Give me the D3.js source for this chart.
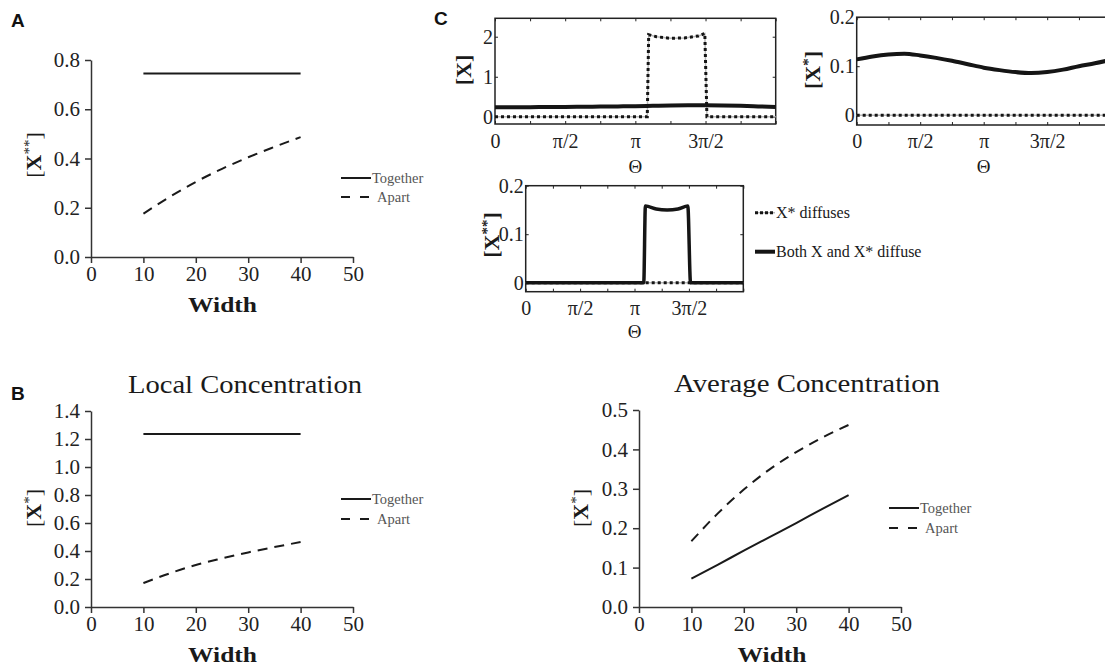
<!DOCTYPE html>
<html>
<head>
<meta charset="utf-8">
<script src="https://cdn.jsdelivr.net/npm/d3@7"></script>
<style>
  body { margin: 0; background: #fff; }
  svg { display: block; }
</style>
</head>
<body>
<svg id="fig" width="1105" height="667"></svg>
<script>
// --- data: panels A / B (x = channel width) ---
const widths = [10, 15, 20, 25, 30, 35, 40];
const widthTicks = [0, 10, 20, 30, 40, 50];

const aTogether = [0.745, 0.745, 0.745, 0.745, 0.745, 0.745, 0.745];
const aApart    = [0.176, 0.244, 0.305, 0.358, 0.405, 0.447, 0.487];
const aTicks    = [0, 0.2, 0.4, 0.6, 0.8];

const localTogether = [1.235, 1.235, 1.235, 1.235, 1.235, 1.235, 1.235];
const localApart    = [0.171, 0.240, 0.300, 0.347, 0.390, 0.428, 0.464];
const localTicks    = [0, 0.2, 0.4, 0.6, 0.8, 1.0, 1.2, 1.4];

const avgTogether = [0.072, 0.107, 0.143, 0.178, 0.213, 0.249, 0.284];
const avgApart    = [0.167, 0.237, 0.298, 0.350, 0.393, 0.430, 0.462];
const avgTicks    = [0, 0.1, 0.2, 0.3, 0.4, 0.5];

// --- data: panel C (theta in units of pi) ---
const thetaTicks  = [0, 0.25, 0.5, 0.75, 1, 1.25, 1.5, 1.75, 2];
const thetaLabels = ['0', '', 'π/2', '', 'π', '', '3π/2', '', ''];
const thetaGrid   = [0, 0.125, 0.25, 0.375, 0.5, 0.625, 0.75, 0.875, 1,
                     1.125, 1.25, 1.375, 1.5, 1.625, 1.75, 1.875, 2];
const zeroLine    = [0, 0, 0, 0, 0, 0, 0, 0, 0, 0, 0, 0, 0, 0, 0, 0, 0];

// [X]
const xBothDiffuse = [0.24, 0.24, 0.24, 0.245, 0.245, 0.25, 0.255, 0.26, 0.265,
                      0.275, 0.285, 0.29, 0.29, 0.285, 0.275, 0.26, 0.245];
const xStarTheta   = [0, 1.085, 1.095, 1.15, 1.25, 1.35, 1.45, 1.495, 1.51, 2];
const xStarDiffuse = [0, 0, 2.05, 2.0, 1.96, 1.97, 2.02, 2.08, 0, 0];
const xTicks = [0, 1, 2];

// [X*]
const xsBothDiffuse = [0.114, 0.120, 0.124, 0.1255, 0.122, 0.117, 0.111, 0.104, 0.097,
                       0.092, 0.088, 0.086, 0.088, 0.093, 0.100, 0.106, 0.113];
const smallTicks = [0, 0.1, 0.2];
const smallTickLabels = ['0', '0.1', '0.2'];

// [X**]
const xssTheta       = [0, 1.085, 1.10, 1.2, 1.3, 1.4, 1.49, 1.515, 2];
const xssBothDiffuse = [0, 0, 0.158, 0.152, 0.150, 0.152, 0.158, 0, 0];

const svg = d3.select('#fig');
svg.append('rect').attr('width', 1105).attr('height', 667).attr('fill', '#fff');

const SERIF = '"Liberation Serif", "Times New Roman", serif';
const INK = '#1a1a1a';

function panelLetter(t, x, y) {
  svg.append('text').attr('x', x).attr('y', y)
    .attr('font-family', '"Liberation Sans", Arial, sans-serif')
    .attr('font-weight', 700).attr('font-size', 19).attr('fill', '#111')
    .text(t);
}

// rotated y label like "[X**]"
function yLabel(cx, cy, stars, bold) {
  const t = svg.append('text')
    .attr('transform', `translate(${cx},${cy}) rotate(-90)`)
    .attr('text-anchor', 'middle').attr('dy', '0.35em')
    .attr('font-family', SERIF).attr('font-size', 22).attr('fill', INK)
    .attr('font-weight', bold ? 700 : 400);
  t.append('tspan').text('[');
  t.append('tspan').attr('font-weight', 700).text('X');
  if (stars) {
    t.append('tspan').attr('dy', -7).attr('font-size', 15).text(stars);
    t.append('tspan').attr('dy', 7).text(']');
  } else {
    t.append('tspan').text(']');
  }
}

function styleTickText(a, size) {
  a.attr('font-family', SERIF);
  a.selectAll('.tick text').attr('font-family', SERIF).attr('font-size', size).attr('fill', '#222');
}

function widthPanel(o) {
  const x = d3.scaleLinear().domain([0, 50]).range(o.xr);
  const y = d3.scaleLinear().domain(o.yd).range(o.yr);
  const g = svg.append('g');

  const ax = g.append('g').attr('transform', `translate(0,${o.yr[0]})`)
    .call(d3.axisBottom(x).tickValues(widthTicks).tickSize(6).tickSizeOuter(0).tickPadding(3));
  const ay = g.append('g').attr('transform', `translate(${o.xr[0]},0)`)
    .call(d3.axisLeft(y).tickValues(o.ticks).tickFormat(d3.format('.1f'))
      .tickSize(6).tickSizeOuter(0).tickPadding(5));
  [ax, ay].forEach(a => {
    a.select('.domain').attr('stroke', '#333').attr('stroke-width', 1.5);
    a.selectAll('.tick line').attr('stroke', '#333').attr('stroke-width', 1.5);
    styleTickText(a, 21);
  });

  const line = d3.line().x((d, i) => x(widths[i])).y(d => y(d)).curve(d3.curveMonotoneX);
  g.append('path').datum(o.together).attr('d', line)
    .attr('fill', 'none').attr('stroke', INK).attr('stroke-width', 2);
  g.append('path').datum(o.apart).attr('d', line)
    .attr('fill', 'none').attr('stroke', INK).attr('stroke-width', 2)
    .attr('stroke-dasharray', '10,7');

  // legend
  const lx = o.legend[0], ly = o.legend[1];
  g.append('line').attr('x1', lx).attr('x2', lx + 30).attr('y1', ly).attr('y2', ly)
    .attr('stroke', INK).attr('stroke-width', 2);
  g.append('line').attr('x1', lx).attr('x2', lx + 30).attr('y1', ly + o.gap).attr('y2', ly + o.gap)
    .attr('stroke', INK).attr('stroke-width', 2).attr('stroke-dasharray', '9,10');
  g.append('text').attr('x', lx + 31).attr('y', ly + 5)
    .attr('font-family', SERIF).attr('font-size', 14.5).attr('fill', '#555').text('Together');
  g.append('text').attr('x', lx + 36).attr('y', ly + o.gap + 5)
    .attr('font-family', SERIF).attr('font-size', 14.5).attr('fill', '#555').text('Apart');

  // x title
  g.append('text').attr('x', o.wx).attr('y', o.yr[0] + 55)
    .attr('text-anchor', 'middle').attr('font-family', SERIF).attr('font-weight', 700)
    .attr('font-size', 22).attr('fill', INK)
    .attr('textLength', 69).attr('lengthAdjust', 'spacingAndGlyphs').text('Width');

  if (o.title) {
    g.append('text').attr('x', o.title.x).attr('y', o.title.y)
      .attr('text-anchor', 'middle').attr('font-family', SERIF).attr('font-size', 25)
      .attr('fill', INK).attr('textLength', o.title.w).attr('lengthAdjust', 'spacingAndGlyphs')
      .text(o.title.t);
  }
  yLabel(o.ylab[0], o.ylab[1], o.stars, false);
}

function drawDotted(g, xs, ys, x, y) {
  const line = d3.line().x((d, i) => x(xs[i])).y(d => y(d));
  g.append('path').datum(ys).attr('d', line)
    .attr('fill', 'none').attr('stroke', '#b8b8b8').attr('stroke-width', 1.5);
  g.append('path').datum(ys).attr('d', line)
    .attr('fill', 'none').attr('stroke', '#151515').attr('stroke-width', 3)
    .attr('stroke-dasharray', '3,3');
}

function thetaPanel(o) {
  const x = d3.scaleLinear().domain([0, 2]).range(o.xr);
  const y = d3.scaleLinear().domain(o.yd).range(o.yr);
  const g = svg.append('g');

  const bottom = g.append('g').attr('transform', `translate(0,${o.yr[0]})`)
    .call(d3.axisBottom(x).tickValues(thetaTicks).tickFormat((d, i) => thetaLabels[i])
      .tickSize(-3).tickSizeOuter(0).tickPadding(o.xpad));
  const top = g.append('g').attr('transform', `translate(0,${o.yr[1]})`)
    .call(d3.axisTop(x).tickValues(thetaTicks).tickFormat('').tickSize(-3).tickSizeOuter(0));
  const left = g.append('g').attr('transform', `translate(${o.xr[0]},0)`)
    .call(d3.axisLeft(y).tickValues(o.ticks).tickFormat((d, i) => o.tickLabels[i])
      .tickSize(-3).tickSizeOuter(0).tickPadding(2));
  const right = g.append('g').attr('transform', `translate(${o.xr[1]},0)`)
    .call(d3.axisRight(y).tickValues(o.ticks).tickFormat('').tickSize(-3).tickSizeOuter(0));
  [bottom, top, left, right].forEach(a => {
    a.select('.domain').remove();
    a.selectAll('.tick line').attr('stroke', '#222').attr('stroke-width', 1);
    styleTickText(a, 20);
  });
  g.append('rect').attr('x', o.xr[0]).attr('y', o.yr[1])
    .attr('width', o.xr[1] - o.xr[0]).attr('height', o.yr[0] - o.yr[1])
    .attr('fill', 'none').attr('stroke', '#222').attr('stroke-width', 1.5);

  drawDotted(g, o.dotX, o.dotY, x, y);
  const solid = d3.line().x((d, i) => x(o.solidX[i])).y(d => y(d)).curve(d3.curveMonotoneX);
  g.append('path').datum(o.solidY).attr('d', solid)
    .attr('fill', 'none').attr('stroke', '#151515').attr('stroke-width', o.sw || 3.5)
    .attr('stroke-linejoin', 'round');

  g.append('text').attr('x', x(1)).attr('y', o.thetaY)
    .attr('text-anchor', 'middle').attr('font-family', SERIF).attr('font-size', 19)
    .attr('fill', INK).text('Θ');
  yLabel(o.ylab[0], o.ylab[1], o.stars, true);
}

// ---- A ----
panelLetter('A', 11, 27);
widthPanel({
  xr: [91, 353], yd: [0, 0.8], yr: [257, 60], ticks: aTicks,
  together: aTogether, apart: aApart,
  legend: [341, 178], gap: 19, wx: 222.5, ylab: [33, 155], stars: '**'
});

// ---- B ----
panelLetter('B', 11, 400);
widthPanel({
  xr: [91, 353], yd: [0, 1.4], yr: [607, 411], ticks: localTicks,
  together: localTogether, apart: localApart,
  legend: [341, 499], gap: 20, wx: 222.5, ylab: [33, 508], stars: '*',
  title: { t: 'Local Concentration', x: 245, y: 393, w: 234 }
});
widthPanel({
  xr: [639, 901], yd: [0, 0.5], yr: [607, 410], ticks: avgTicks,
  together: avgTogether, apart: avgApart,
  legend: [889, 508], gap: 20, wx: 772, ylab: [580, 508], stars: '*',
  title: { t: 'Average Concentration', x: 807, y: 392, w: 266 }
});

// ---- C ----
panelLetter('C', 434, 25);
thetaPanel({
  xr: [495, 775.7], yd: [-0.18, 2.46], yr: [124, 18.3],
  ticks: xTicks, tickLabels: ['0', '1', '2'], xpad: 10, thetaY: 173,
  dotX: xStarTheta, dotY: xStarDiffuse, solidX: thetaGrid, solidY: xBothDiffuse,
  ylab: [463, 70], stars: '', sw: 4
});
thetaPanel({
  xr: [856.7, 1110.7], yd: [-0.02, 0.2], yr: [125, 17.2],
  ticks: smallTicks, tickLabels: smallTickLabels, xpad: 9, thetaY: 173,
  dotX: thetaGrid, dotY: zeroLine, solidX: thetaGrid, solidY: xsBothDiffuse,
  ylab: [812, 70], stars: '*', sw: 4
});
thetaPanel({
  xr: [525.7, 743.3], yd: [-0.0186, 0.2], yr: [291.7, 185.7],
  ticks: smallTicks, tickLabels: smallTickLabels, xpad: 9, thetaY: 338,
  dotX: thetaGrid, dotY: zeroLine, solidX: xssTheta, solidY: xssBothDiffuse,
  ylab: [491, 235], stars: '**', sw: 3.5
});

// legend for C
const lc = svg.append('g');
lc.append('line').attr('x1', 755).attr('x2', 775).attr('y1', 212.7).attr('y2', 212.7)
  .attr('stroke', '#b8b8b8').attr('stroke-width', 1.5);
lc.append('line').attr('x1', 755).attr('x2', 775).attr('y1', 212.7).attr('y2', 212.7)
  .attr('stroke', '#151515').attr('stroke-width', 3).attr('stroke-dasharray', '3,2');
lc.append('line').attr('x1', 755).attr('x2', 775).attr('y1', 251.7).attr('y2', 251.7)
  .attr('stroke', '#151515').attr('stroke-width', 4);
lc.append('text').attr('x', 776).attr('y', 218).attr('font-family', SERIF)
  .attr('font-size', 16).attr('fill', INK).text('X* diffuses');
lc.append('text').attr('x', 776).attr('y', 257).attr('font-family', SERIF)
  .attr('font-size', 16).attr('fill', INK).text('Both X and X* diffuse');
</script>
</body>
</html>
